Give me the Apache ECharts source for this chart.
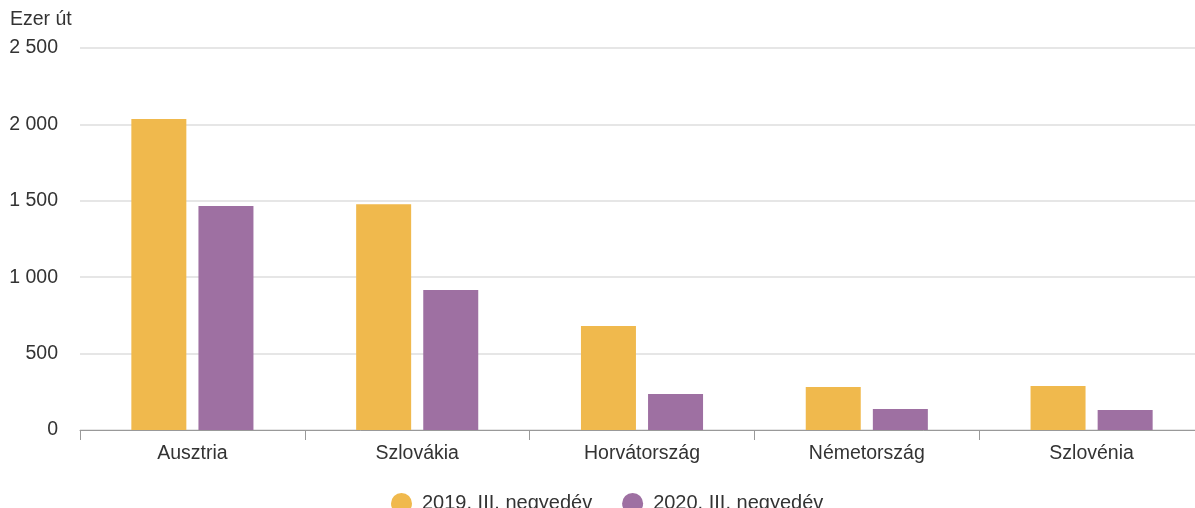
<!DOCTYPE html>
<html>
<head>
<meta charset="utf-8">
<script src="https://cdn.jsdelivr.net/npm/echarts@6/dist/echarts.min.js"></script>
<style>
  html, body { margin: 0; padding: 0; background: #fff; overflow: hidden; }
  /* plot runs a bit past the window edge, like the original */
  #chart { width: 1204px; height: 508px; }
</style>
</head>
<body>
<div id="chart"></div>
<script>
  // adatok
  var categories = ['Ausztria', 'Szlovákia', 'Horvátország', 'Németország', 'Szlovénia'];
  var seriesNames = ['2019. III. negyedév', '2020. III. negyedév'];
  var values2019 = [2035, 1478, 680, 281, 288];
  var values2020 = [1466, 916, 236, 137, 131];
  var colors = ['#F0B94D', '#9E70A2'];

  var font = '"Liberation Sans", Arial, sans-serif';
  var myChart = echarts.init(document.getElementById('chart'));

  myChart.setOption({
    animation: false,
    textStyle: { fontFamily: font },
    legend: {
      top: 488,
      left: 386,
      icon: 'circle',
      itemWidth: 21,
      itemHeight: 21,
      itemGap: 30,
      textStyle: { fontSize: 20, color: '#333', fontFamily: font, padding: [0, 0, 0, 5] },
      data: seriesNames
    },
    grid: { left: 80, top: 48, right: 0, height: 382 },
    xAxis: {
      type: 'category',
      data: categories,
      axisLine: { show: true, lineStyle: { color: '#999' } },
      axisTick: { show: true, length: 10, lineStyle: { color: '#999' } },
      axisLabel: { fontSize: 19.5, color: '#333', margin: 14, fontFamily: font }
    },
    yAxis: {
      type: 'value',
      name: 'Ezer út',
      nameLocation: 'end',
      nameGap: 18,
      nameTextStyle: { fontSize: 19.5, color: '#333', align: 'left', padding: [0, 0, 0, -70], fontFamily: font },
      min: 0,
      max: 2500,
      interval: 500,
      axisLabel: {
        fontSize: 19.5, color: '#333', margin: 22, fontFamily: font,
        formatter: function (v) { return String(v).replace(/\B(?=(\d{3})+(?!\d))/g, ' '); }
      },
      splitLine: { lineStyle: { color: '#e6e6e6', width: 2 } }
    },
    series: [
      { name: seriesNames[0], type: 'bar', data: values2019, itemStyle: { color: colors[0] }, barWidth: 55, barGap: '22%' },
      { name: seriesNames[1], type: 'bar', data: values2020, itemStyle: { color: colors[1] }, barWidth: 55, barGap: '22%' }
    ]
  });
</script>
</body>
</html>
